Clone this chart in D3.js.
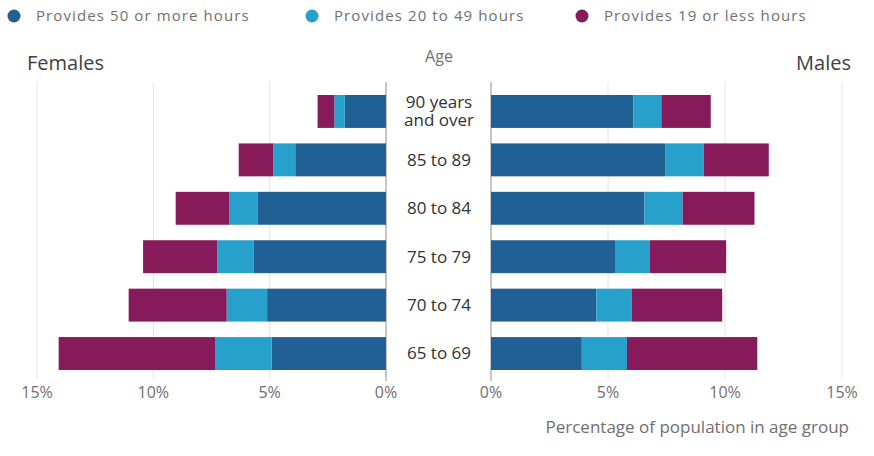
<!DOCTYPE html>
<html>
<head>
<meta charset="utf-8">
<script src="https://cdn.jsdelivr.net/npm/d3@7"></script>
<style>
  body { margin: 0; background: #fff; }
  text { font-family: "Open Sans", sans-serif; }
</style>
</head>
<body>
<div id="viz"></div>
<script>
// age groups, top to bottom
var ages = ["90 years and over", "85 to 89", "80 to 84", "75 to 79", "70 to 74", "65 to 69"];
var seriesNames = ["Provides 50 or more hours", "Provides 20 to 49 hours", "Provides 19 or less hours"];
var keys = ["h50", "h20", "h19"];
var colours = ["#206095", "#27a0cc", "#871a5b"];

// percentages of population in age group
var femalesH50 = [1.77, 3.90, 5.53, 5.70, 5.11, 4.91];
var femalesH20 = [0.45, 0.94, 1.20, 1.55, 1.74, 2.44];
var femalesH19 = [0.72, 1.49, 2.31, 3.19, 4.21, 6.72];
var malesH50 = [6.08, 7.44, 6.56, 5.30, 4.50, 3.88];
var malesH20 = [1.20, 1.65, 1.63, 1.49, 1.51, 1.93];
var malesH19 = [2.11, 2.78, 3.07, 3.26, 3.87, 5.57];
var ticks = [0, 5, 10, 15];

var width = 874, height = 456;

var svg = d3.select("#viz")
  .append("svg")
  .attr("width", width)
  .attr("height", height);

function rows(a, b, c) {
  return ages.map(function(age, i) { return {age: age, h50: a[i], h20: b[i], h19: c[i]}; });
}
var stack = d3.stack().keys(keys);
var fem = stack(rows(femalesH50, femalesH20, femalesH19));
var mal = stack(rows(malesH50, malesH20, malesH19));

var xL = d3.scaleLinear().domain([0, 15]).range([386, 37]);
var xR = d3.scaleLinear().domain([0, 15]).range([491, 842]);
var y = d3.scaleBand().domain(ages).range([95, 370]).paddingInner(0.32).paddingOuter(0);
var c = d3.scaleOrdinal().domain(keys).range(colours);

var gridTop = 82, gridBottom = 381;

// gridlines and tick labels
[xL, xR].forEach(function(x) {
  svg.append("g").selectAll("line").data(ticks).enter()
    .append("line")
    .attr("x1", function(d) { return x(d); })
    .attr("x2", function(d) { return x(d); })
    .attr("y1", gridTop)
    .attr("y2", function(d) { return d == 0 ? gridBottom : gridBottom - 2; })
    .style("stroke", function(d) { return d == 0 ? "#b3b3b3" : "#e4e4e4"; })
    .style("stroke-width", function(d) { return d == 0 ? 1.5 : 1; });

  svg.append("g").selectAll("text").data(ticks).enter()
    .append("text")
    .attr("x", function(d) { return x(d); })
    .attr("y", 398)
    .attr("text-anchor", "middle")
    .style("font-size", "16px")
    .style("fill", "#707070")
    .text(function(d) { return d + "%"; });
});

// bars
function drawBars(layers, x, left) {
  svg.append("g").selectAll("g").data(layers).enter()
    .append("g")
    .style("fill", function(d) { return c(d.key); })
    .selectAll("rect").data(function(d) { return d; }).enter()
    .append("rect")
    .attr("x", function(d) { return left ? x(d[1]) : x(d[0]); })
    .attr("y", function(d) { return y(d.data.age); })
    .attr("width", function(d) { return Math.abs(x(d[1]) - x(d[0])); })
    .attr("height", y.bandwidth());
}
drawBars(fem, xL, true);
drawBars(mal, xR, false);

// age labels
var labels = svg.append("g").selectAll("text").data(ages).enter()
  .append("text")
  .attr("x", 439)
  .attr("y", function(d) { return y(d) + y.bandwidth() / 2; })
  .attr("text-anchor", "middle")
  .style("font-size", "17px")
  .style("fill", "#323132");
labels.each(function(d) {
  var t = d3.select(this);
  if (d == "90 years and over") {
    t.append("tspan").attr("x", 439).attr("dy", "-0.2em").text("90 years");
    t.append("tspan").attr("x", 439).attr("dy", "1.05em").text("and over");
  } else {
    t.attr("dy", "0.35em").text(d);
  }
});

svg.append("text").attr("x", 439).attr("y", 62).attr("text-anchor", "middle")
  .style("font-size", "16px").style("fill", "#707070").text("Age");
svg.append("text").attr("x", 27).attr("y", 70)
  .style("font-size", "20px").style("fill", "#414042").text("Females");
svg.append("text").attr("x", 851).attr("y", 70).attr("text-anchor", "end")
  .style("font-size", "20px").style("fill", "#414042").text("Males");
svg.append("text").attr("x", 849).attr("y", 433).attr("text-anchor", "end")
  .style("font-size", "17px").style("fill", "#707070").text("Percentage of population in age group");

// legend
var legendX = [14, 312, 582];
var legend = svg.append("g").selectAll("g").data(seriesNames).enter()
  .append("g")
  .attr("transform", function(d, i) { return "translate(" + legendX[i] + ",16)"; });
legend.append("circle").attr("r", 6.5).style("fill", function(d, i) { return colours[i]; });
legend.append("text").attr("x", 22).attr("dy", "0.35em")
  .style("font-size", "15px").style("letter-spacing", "1.1px").style("fill", "#707070")
  .text(function(d) { return d; });
</script>
</body>
</html>
